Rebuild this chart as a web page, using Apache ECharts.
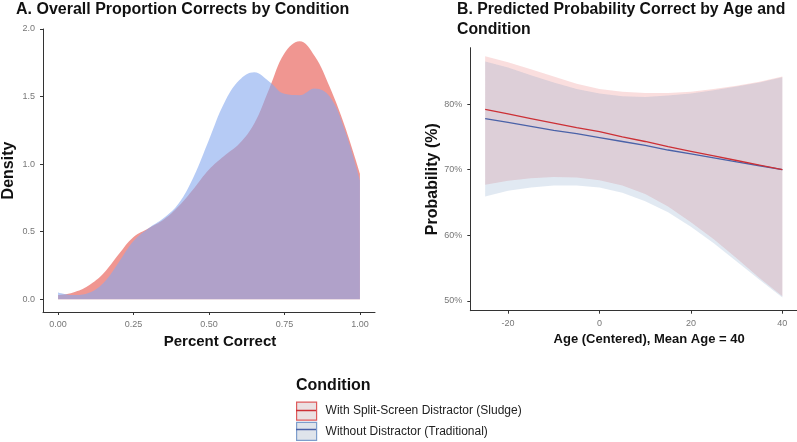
<!DOCTYPE html>
<html>
<head>
    <meta charset="utf-8">
    <title>Proportion correct</title>
    <script src="https://cdn.jsdelivr.net/npm/echarts@6/dist/echarts.min.js"></script>
    <style>
        html, body { margin: 0; padding: 0; background: #fff; }
        #main { width: 797px; height: 442px; }
    </style>
</head>
<body>
    <div id="main"></div>
    <script>
        // panel A: density of proportion correct
        var densityX = [0, 0.05, 0.10, 0.15, 0.20, 0.25, 0.30, 0.35, 0.40, 0.45, 0.50,
            0.55, 0.60, 0.65, 0.70, 0.75, 0.80, 0.85, 0.90, 0.95, 1.00];
        var sludgeDensity = [0.03, 0.05, 0.10, 0.19, 0.33, 0.46, 0.525, 0.59, 0.69, 0.82, 0.96,
            1.06, 1.15, 1.30, 1.56, 1.82, 1.91, 1.80, 1.57, 1.28, 0.93];
        var tradDensity = [0.05, 0.03, 0.045, 0.12, 0.27, 0.43, 0.525, 0.60, 0.71, 0.91, 1.18,
            1.45, 1.62, 1.68, 1.61, 1.52, 1.51, 1.56, 1.50, 1.25, 0.88];
        var densityTicksX = [0, 0.25, 0.5, 0.75, 1];
        var densityTicksY = [0, 0.5, 1, 1.5, 2];

        // panel B: predicted probability by age
        var ageX = [-25, -20, -15, -10, -5, 0, 5, 10, 15, 20, 25, 30, 35, 40];
        var sludgeProb = [79.2, 78.5, 77.8, 77.1, 76.4, 75.8, 75.0, 74.3, 73.5, 72.8, 72.1, 71.4, 70.7, 70.0];
        var sludgeUpper = [87.3, 86.4, 85.3, 84.2, 83.1, 82.3, 81.9, 81.7, 81.7, 81.9, 82.3, 82.8, 83.4, 84.2];
        var sludgeLower = [67.7, 68.3, 68.7, 68.9, 68.8, 68.4, 67.6, 66.3, 64.4, 62.0, 59.4, 56.5, 53.5, 50.7];
        var tradProb = [77.8, 77.2, 76.6, 76.0, 75.5, 74.9, 74.3, 73.7, 73.0, 72.4, 71.8, 71.2, 70.6, 70.0];
        var tradUpper = [86.5, 85.6, 84.4, 83.3, 82.3, 81.6, 81.2, 81.1, 81.3, 81.6, 82.1, 82.7, 83.3, 84.1];
        var tradLower = [65.9, 66.8, 67.3, 67.6, 67.6, 67.3, 66.5, 65.2, 63.5, 61.3, 58.8, 56.0, 53.2, 50.5];
        var ageTicks = [-20, 0, 20, 40];
        var probTicks = [50, 60, 70, 80];

        var sludgeName = 'With Split-Screen Distractor (Sludge)';
        var tradName = 'Without Distractor (Traditional)';

        var font = 'Liberation Sans';

        function pairs(xs, ys) {
            return xs.map(function (x, i) { return [x, ys[i]]; });
        }

        // ribbon drawn as one polygon, upper edge forward then lower edge back
        function ribbon(upper, lower, fill) {
            return function (params, api) {
                var pts = [];
                ageX.forEach(function (x, i) { pts.push(api.coord([x, upper[i]])); });
                for (var i = ageX.length - 1; i >= 0; i--) pts.push(api.coord([ageX[i], lower[i]]));
                return {
                    type: 'polygon',
                    shape: { points: pts },
                    style: { fill: fill }
                };
            };
        }

        var axisCommon = {
            axisLine: { onZero: false, lineStyle: { color: '#333', width: 1 } },
            axisTick: { length: 3, lineStyle: { color: '#333' } },
            splitLine: { show: false },
            nameTextStyle: { fontFamily: font, fontWeight: 'bold', color: '#111' }
        };
        function axis(extra) {
            return echarts.util.merge(echarts.util.clone(axisCommon), extra, true);
        }
        function label(vals, fmt) {
            return { customValues: vals, color: '#777', fontSize: 9, fontFamily: font, formatter: fmt };
        }

        var chart = echarts.init(document.getElementById('main'));
        chart.setOption({
            animation: false,
            title: [{
                text: 'A. Overall Proportion Corrects by Condition',
                left: 16, top: 2, padding: 0,
                textStyle: { fontFamily: font, fontSize: 16, fontWeight: 'bold', color: '#111' }
            }, {
                text: 'B. Predicted Probability Correct by Age and\nCondition',
                left: 457, top: 0, padding: 0,
                textStyle: { fontFamily: font, fontSize: 15.8, fontWeight: 'bold', color: '#111', lineHeight: 20 }
            }, {
                text: 'Condition',
                left: 296, top: 378, padding: 0,
                textStyle: { fontFamily: font, fontSize: 16, fontWeight: 'bold', color: '#111' }
            }],
            legend: [{
                orient: 'vertical', left: 296, top: 401.5, padding: 0,
                itemWidth: 20, itemHeight: 18, itemGap: 1,
                textStyle: { fontFamily: font, fontSize: 12, color: '#222', lineHeight: 18, padding: [0, 0, 0, 4] },
                data: [
                    { name: sludgeName, icon: 'rect', itemStyle: { color: '#ebe0e2', borderColor: '#de5a5c', borderWidth: 1.2 } },
                    { name: tradName, icon: 'rect', itemStyle: { color: '#dfe4eb', borderColor: '#7d9dcb', borderWidth: 1.2 } }
                ]
            }, {
                orient: 'vertical', left: 296, top: 401.5, padding: 0,
                itemWidth: 20, itemHeight: 1.5, itemGap: 1,
                textStyle: { fontFamily: font, fontSize: 12, color: 'transparent', lineHeight: 18, padding: [0, 0, 0, 4] },
                data: [
                    { name: sludgeName, icon: 'rect', itemStyle: { color: '#cc3036', borderWidth: 0 } },
                    { name: tradName, icon: 'rect', itemStyle: { color: '#4a62a8', borderWidth: 0 } }
                ]
            }],
            grid: [
                { left: 41.7, top: 29, width: 333.3, height: 283 },
                { left: 470.3, top: 47.7, width: 326.7, height: 263 }
            ],
            xAxis: [axis({
                type: 'value', gridIndex: 0, min: -0.05, max: 1.05,
                axisTick: { customValues: densityTicksX },
                axisLabel: label(densityTicksX, function (v) { return v.toFixed(2); }),
                name: 'Percent Correct', nameLocation: 'middle', nameGap: 21,
                nameTextStyle: { fontSize: 15, padding: [0, 0, 0, 22] }
            }), axis({
                type: 'value', gridIndex: 1, min: -28.25, max: 43.2,
                axisTick: { customValues: ageTicks },
                axisLabel: label(ageTicks, function (v) { return String(v); }),
                name: 'Age (Centered), Mean Age = 40', nameLocation: 'middle', nameGap: 19,
                nameTextStyle: { fontSize: 13, padding: [0, 0, 0, 31] }
            })],
            yAxis: [axis({
                type: 'value', gridIndex: 0, min: -0.095, max: 2,
                axisTick: { customValues: densityTicksY },
                axisLabel: label(densityTicksY, function (v) { return v.toFixed(1); }),
                name: 'Density', nameLocation: 'middle', nameGap: 26, nameRotate: 90,
                nameTextStyle: { fontSize: 16 }
            }), axis({
                type: 'value', gridIndex: 1, min: 48.5, max: 88.6,
                axisTick: { customValues: probTicks },
                axisLabel: label(probTicks, function (v) { return v + '%'; }),
                name: 'Probability (%)', nameLocation: 'middle', nameGap: 28, nameRotate: 90,
                nameTextStyle: { fontSize: 16 }
            })],
            series: [{
                name: 'sludgeDensity', type: 'line', xAxisIndex: 0, yAxisIndex: 0,
                data: pairs(densityX, sludgeDensity), smooth: 0.4, showSymbol: false,
                lineStyle: { width: 0 },
                areaStyle: { color: '#e65048', opacity: 0.6 }
            }, {
                name: 'tradDensity', type: 'line', xAxisIndex: 0, yAxisIndex: 0,
                data: pairs(densityX, tradDensity), smooth: 0.4, showSymbol: false,
                lineStyle: { width: 0 },
                areaStyle: { color: '#85a8ee', opacity: 0.6 }
            }, {
                name: 'sludgeBand', type: 'custom', xAxisIndex: 1, yAxisIndex: 1,
                data: pairs(ageX, sludgeUpper).slice(0, 1),
                renderItem: ribbon(sludgeUpper, sludgeLower, 'rgba(230,90,90,0.2)'),
                silent: true
            }, {
                name: 'tradBand', type: 'custom', xAxisIndex: 1, yAxisIndex: 1,
                data: pairs(ageX, tradUpper).slice(0, 1),
                renderItem: ribbon(tradUpper, tradLower, 'rgba(105,145,190,0.2)'),
                silent: true
            }, {
                name: tradName, type: 'line', xAxisIndex: 1, yAxisIndex: 1,
                data: pairs(ageX, tradProb), showSymbol: false, color: '#4a62a8',
                lineStyle: { width: 1.3, color: '#4a62a8' }
            }, {
                name: sludgeName, type: 'line', xAxisIndex: 1, yAxisIndex: 1,
                data: pairs(ageX, sludgeProb), showSymbol: false, color: '#cc3036',
                lineStyle: { width: 1.3, color: '#cc3036' }
            }]
        });
    </script>
</body>
</html>
